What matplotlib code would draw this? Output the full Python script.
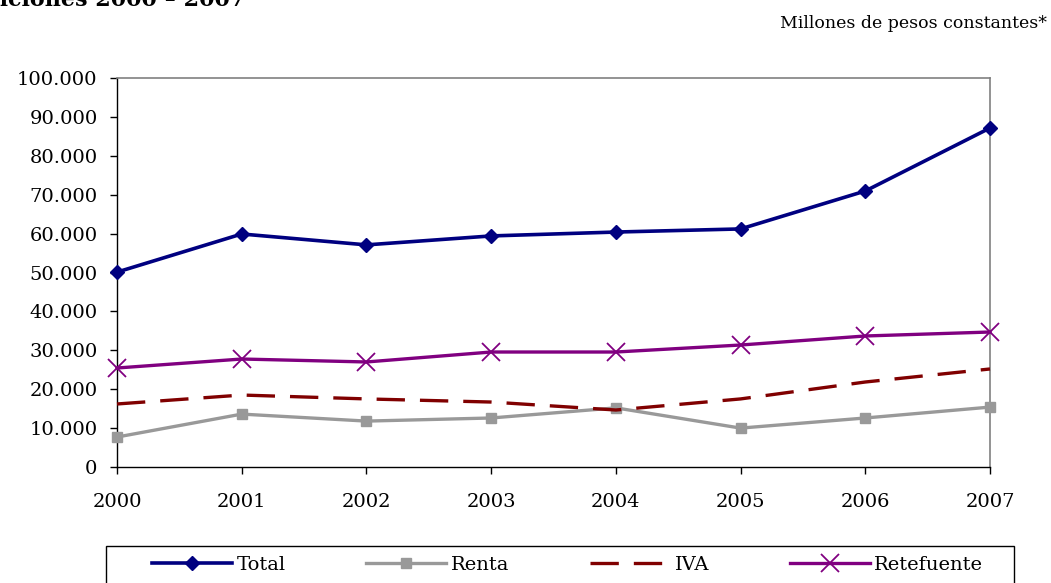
import matplotlib
matplotlib.use("Agg")
from matplotlib import pyplot as plt
from matplotlib.patches import Rectangle
from matplotlib.ticker import FuncFormatter

plt.rcParams["font.family"] = ["DejaVu Serif"]

years = [2000, 2001, 2002, 2003, 2004, 2005, 2006, 2007]
total = [50100, 59900, 57100, 59400, 60400, 61200, 70950, 87150]
renta = [7700, 13600, 11800, 12600, 15200, 10000, 12600, 15400]
iva = [16200, 18500, 17500, 16700, 14650, 17500, 21850, 25200]
retefuente = [25450, 27760, 27000, 29560, 29560, 31360, 33680, 34700]

y_ticks = list(range(0, 100001, 10000))


def thousands(v, pos):
    return f"{int(v):,}".replace(",", ".")


fig = plt.figure(figsize=(10.51, 5.83), dpi=100)
ax = fig.add_axes([117 / 1051, 1 - 467 / 583, (990 - 117) / 1051, (467 - 78) / 583])

ax.plot(years, total, color="#000080", lw=2.6, marker="D", ms=7.5,
        label="Total", zorder=4)
ax.plot(years, renta, color="#999999", lw=2.4, marker="s", ms=7.5,
        label="Renta", zorder=3)
ax.plot(years, iva, color="#800000", lw=2.4, dashes=(8.5, 4.5),
        label="IVA", zorder=3)
ax.plot(years, retefuente, color="#800080", lw=2.4, marker="x", ms=13, mew=1.3,
        label="Retefuente", zorder=3)

ax.set_xlim(years[0], years[-1])
ax.set_ylim(0, 100000)
ax.set_xticks(years)
ax.set_yticks(y_ticks)
ax.yaxis.set_major_formatter(FuncFormatter(thousands))
ax.tick_params(axis="both", direction="out", length=5, width=1, labelsize=14,
               colors="black")
ax.tick_params(axis="x", pad=14)
ax.tick_params(axis="y", pad=9)
for side in ["left", "bottom"]:
    ax.spines[side].set_color("black")
    ax.spines[side].set_linewidth(1)
for side in ["top", "right"]:
    ax.spines[side].set_color("#808080")
    ax.spines[side].set_linewidth(1.2)
for ln in ax.lines:
    ln.set_clip_on(False)

fig.text(245 / 1051, 1 - 6 / 583, "Recaudo por impuestos y retenciones 2000 – 2007",
         ha="right", va="baseline", fontsize=16, fontweight="bold")
fig.text(1047 / 1051, 1 - 28 / 583, "Millones de pesos constantes*",
         ha="right", va="baseline", fontsize=12.5)

# legend box, bottom edge runs off the figure like the reference
fig.patches.append(Rectangle((106 / 1051, -0.02), (1014 - 106) / 1051, 1 - 546 / 583 + 0.02,
                             transform=fig.transFigure, fill=False,
                             edgecolor="black", lw=1))
leg = fig.legend(loc="center left", ncol=4, frameon=False,
                 bbox_to_anchor=(152 / 1051, 1 - 565 / 583),
                 fontsize=14, handlelength=4.1, handletextpad=0.25,
                 borderpad=0, borderaxespad=0, columnspacing=4.15)

fig.savefig("out.png", dpi=100)
plt.close(fig)
